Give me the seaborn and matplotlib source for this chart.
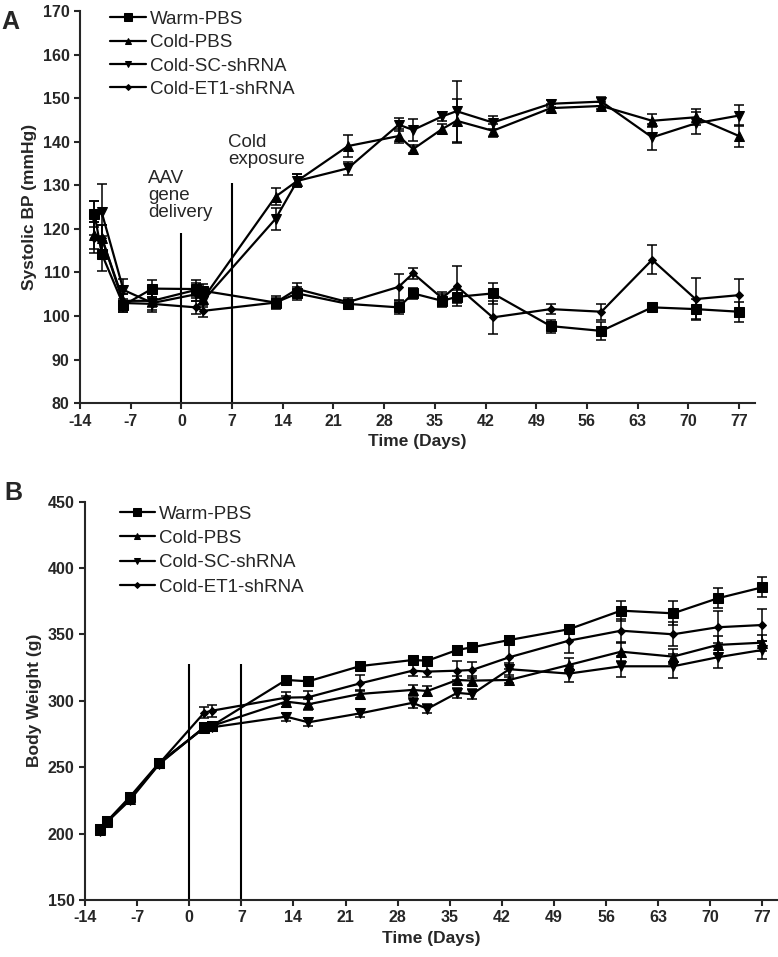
import numpy as np
import seaborn as sns
import matplotlib
matplotlib.use('Agg')
import matplotlib.pyplot as plt

# time points (days relative to AAV delivery)
days = [-12, -11, -8, -4, 2, 3, 13, 16, 23, 30, 32, 36, 38, 43, 51, 58, 65, 71, 77]
groups = ['Warm-PBS', 'Cold-PBS', 'Cold-SC-shRNA', 'Cold-ET1-shRNA']

# panel A: systolic BP (mmHg), mean and SEM
bp_warm = [123.5, 114.3, 102.5, 106.3, 106.2, 105.8, 103.1, 105.2, 102.8, 102.0, 105.2, 103.5, 104.4, 105.2, 97.7, 96.6, 102.0, 101.6, 101.0]
bp_cold_pbs = [118.5, 118.0, 103.5, 103.5, 106.0, 104.0, 127.4, 131.0, 139.0, 141.3, 138.3, 142.9, 144.8, 142.5, 147.7, 148.2, 144.8, 145.6, 141.3]
bp_cold_sc = [122.5, 123.8, 106.0, 103.0, 105.0, 103.5, 122.3, 131.0, 133.9, 143.9, 142.7, 145.8, 147.0, 144.4, 148.7, 149.2, 141.0, 144.2, 146.0]
bp_cold_et1 = [118.0, 118.0, 103.0, 102.8, 102.0, 101.2, 103.1, 106.2, 103.2, 106.7, 109.8, 104.1, 106.9, 99.7, 101.6, 101.0, 112.9, 103.9, 104.8]
bp_warm_sem = [3, 4, 1.5, 2, 2, 1.5, 1.5, 1.5, 1, 1.5, 1.2, 1.5, 1.5, 2.5, 1.5, 2, 0.5, 2.3, 2.3]
bp_cold_pbs_sem = [3, 3, 1.5, 1.5, 1.5, 1.5, 2, 1.5, 2.5, 1.5, 1, 1.2, 5, 1.5, 1, 0.8, 1.5, 1.8, 2.5]
bp_cold_sc_sem = [4, 6.5, 2.5, 2, 1.5, 1.5, 2.5, 1.5, 1.5, 1.5, 2.5, 1, 7, 1.5, 0.8, 1, 3, 2.5, 2.5]
bp_cold_et1_sem = [3.5, 3, 2, 1.5, 1.5, 1.5, 1, 1.5, 1, 3, 1.3, 1.5, 4.5, 3.8, 1.2, 1.8, 3.3, 4.8, 3.8]

# panel B: body weight (g), mean and SEM
bw_warm = [203.5, 209.5, 227.5, 253.5, 279.5, 281.0, 315.7, 314.7, 326.2, 330.7, 330.2, 338.3, 340.3, 345.8, 353.9, 367.9, 365.9, 377.2, 385.5]
bw_cold_pbs = [202.5, 209.0, 226.0, 253.0, 280.0, 281.0, 299.4, 297.4, 305.2, 308.2, 307.4, 315.7, 315.2, 315.7, 327.0, 337.0, 333.3, 342.1, 343.8]
bw_cold_sc = [202.0, 209.0, 225.0, 252.5, 280.0, 280.0, 288.1, 283.8, 290.6, 298.5, 294.0, 306.0, 305.0, 323.8, 320.5, 326.0, 326.0, 332.8, 338.3]
bw_cold_et1 = [203.0, 209.5, 226.5, 253.0, 291.0, 292.5, 302.4, 302.7, 313.2, 322.7, 322.0, 322.7, 323.2, 332.8, 345.3, 352.8, 350.1, 355.4, 357.1]
bw_warm_sem = [3, 3, 3, 3, 3, 3, 2.5, 3, 3, 3, 3, 3, 3, 3, 3, 7.5, 9, 7.5, 7.5]
bw_cold_pbs_sem = [3, 3, 3, 3, 3, 3, 4, 4, 3, 4, 3.5, 3, 3.5, 2.5, 5, 7, 5.5, 7, 6]
bw_cold_sc_sem = [3, 3, 3, 3, 3, 3, 3, 3, 3, 4, 3.5, 4, 4, 4.5, 6, 8, 9, 8, 7]
bw_cold_et1_sem = [3, 3, 3, 3, 4, 4.5, 4.5, 5, 6, 4, 4, 7, 6, 9, 9, 9, 9, 12, 12]

x_ticks = list(range(-14, 78, 7))

sns.set_style('ticks')
plt.rcParams['font.family'] = ['Liberation Sans', 'DejaVu Sans']
plt.rcParams['axes.unicode_minus'] = False

markers = {'Warm-PBS': ('s', 7), 'Cold-PBS': ('^', 6.5), 'Cold-SC-shRNA': ('v', 6.5), 'Cold-ET1-shRNA': ('D', 4)}


def draw_panel(ax, means, sems):
    for name, m, s in zip(groups, means, sems):
        mk, ms = markers[name]
        sns.lineplot(x=days, y=m, marker=mk, markersize=ms, color='black', linewidth=1.6,
                     markeredgecolor='black', label=name, ax=ax)
        ax.errorbar(days, m, yerr=s, fmt='none', ecolor='black', elinewidth=1.1, capsize=3.5, capthick=1.1)
    sns.despine(ax=ax)
    for s in ['left', 'bottom']:
        ax.spines[s].set_linewidth(1.5)
    ax.tick_params(width=1.5, length=4, direction='out')
    ax.set_xticks(x_ticks)
    ax.set_xlabel('Time (Days)', fontsize=12.5, fontweight='bold')


def bold_ticks(ax):
    for lab in ax.get_xticklabels() + ax.get_yticklabels():
        lab.set_fontweight('bold')
        lab.set_fontsize(11.5)


fig = plt.figure(figsize=(7.78, 9.57), dpi=100)

# panel A
ax_a = fig.add_axes([0.1028, 0.5786, 0.8676, 0.41])
draw_panel(ax_a, [bp_warm, bp_cold_pbs, bp_cold_sc, bp_cold_et1],
           [bp_warm_sem, bp_cold_pbs_sem, bp_cold_sc_sem, bp_cold_et1_sem])
ax_a.set_xlim(-14, 79.2)
ax_a.set_ylim(80, 170)
ax_a.set_yticks(np.arange(80, 171, 10))
bold_ticks(ax_a)
ax_a.set_ylabel('Systolic BP (mmHg)', fontsize=12.5, fontweight='bold')
ax_a.vlines(0, 80, 119, color='black', linewidth=1.5)
ax_a.vlines(7, 80, 130.5, color='black', linewidth=1.5)
ax_a.text(-4.6, 133.5, 'AAV\ngene\ndelivery', fontsize=13.5, va='top', ha='left', linespacing=1.0)
ax_a.text(6.5, 141.8, 'Cold\nexposure', fontsize=13.5, va='top', ha='left', linespacing=1.0)
ax_a.legend(frameon=False, loc='upper left', bbox_to_anchor=(0.045, 1.0), borderpad=0, borderaxespad=0,
            fontsize=13.5, handlelength=1.9, handletextpad=0.2, labelspacing=0.33, markerscale=0.75)
fig.text(0.002, 0.99, 'A', fontsize=18, fontweight='bold', va='top', ha='left')

# panel B
ax_b = fig.add_axes([0.1093, 0.0596, 0.8907, 0.4162])
draw_panel(ax_b, [bw_warm, bw_cold_pbs, bw_cold_sc, bw_cold_et1],
           [bw_warm_sem, bw_cold_pbs_sem, bw_cold_sc_sem, bw_cold_et1_sem])
ax_b.set_xlim(-14, 79.1)
ax_b.set_ylim(150, 450)
ax_b.set_yticks(np.arange(150, 451, 50))
bold_ticks(ax_b)
ax_b.set_ylabel('Body Weight (g)', fontsize=12.5, fontweight='bold')
ax_b.vlines(0, 150, 328, color='black', linewidth=1.5)
ax_b.vlines(7, 150, 328, color='black', linewidth=1.5)
ax_b.legend(frameon=False, loc='upper left', bbox_to_anchor=(0.05, 0.99), borderpad=0, borderaxespad=0,
            fontsize=13.5, handlelength=1.9, handletextpad=0.2, labelspacing=0.38, markerscale=0.75)
fig.text(0.005, 0.497, 'B', fontsize=18, fontweight='bold', va='top', ha='left')

fig.savefig('out.png', dpi=100)
